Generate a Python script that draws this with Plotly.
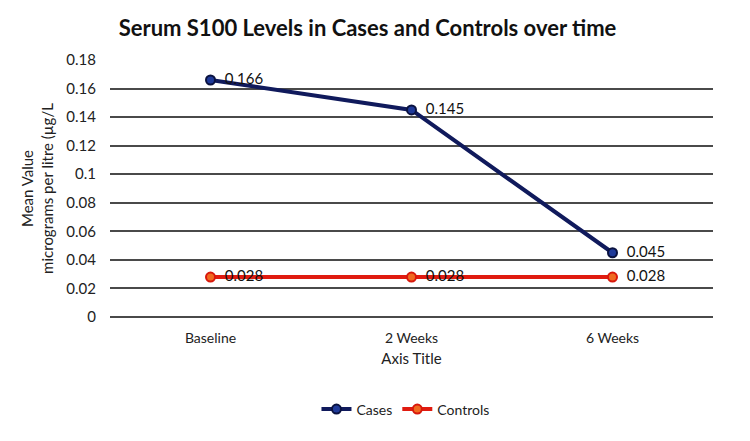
import plotly.graph_objects as go

categories = ["Baseline", "2 Weeks", "6 Weeks"]
cases = [0.166, 0.145, 0.045]
controls = [0.028, 0.028, 0.028]
y_ticks = [0, 0.02, 0.04, 0.06, 0.08, 0.1, 0.12, 0.14, 0.16, 0.18]
y_tick_text = ["0", "0.02", "0.04", "0.06", "0.08", "0.1", "0.12", "0.14", "0.16", "0.18"]

FONT = "Lato"

fig = go.Figure()
fig.add_trace(go.Scatter(
    x=categories, y=cases, name="Cases", mode="lines+markers+text",
    line=dict(color="#101a5c", width=4),
    marker=dict(size=9, color="#1f3a99", line=dict(color="#0a1240", width=2)),
    text=["  " + str(v) for v in cases], textposition="middle right",
    textfont=dict(family=FONT, size=15, color="#111111"),
))
fig.add_trace(go.Scatter(
    x=categories, y=controls, name="Controls", mode="lines+markers+text",
    line=dict(color="#e01b10", width=4),
    marker=dict(size=9, color="#f06a20", line=dict(color="#d8180c", width=2)),
    text=["  " + str(v) for v in controls], textposition="middle right",
    textfont=dict(family=FONT, size=15, color="#111111"),
))

fig.update_layout(
    width=750, height=441,
    margin=dict(l=110, r=37, t=60, b=124),
    paper_bgcolor="white", plot_bgcolor="white",
    font=dict(family=FONT, size=14, color="#222222"),
    title=dict(text="<b>Serum S100 Levels in Cases and Controls over time</b>",
               x=0.49, xanchor="center", y=0.935, yanchor="middle",
               font=dict(family=FONT, size=22, color="#111111")),
    xaxis=dict(title=dict(text="Axis Title", font=dict(family=FONT, size=15), standoff=8),
               showgrid=False, showline=False, ticks="", tickfont=dict(family=FONT, size=14),
               ticklabelstandoff=11, range=[-0.5, 2.5]),
    yaxis=dict(title=dict(text="Mean Value<br>micrograms per litre (µg/L", font=dict(family=FONT, size=15), standoff=9),
               range=[0, 0.18], tickvals=y_ticks, ticktext=y_tick_text,
               showgrid=True, gridcolor="#4a4a4a", gridwidth=1.5,
               zeroline=True, zerolinecolor="#4a4a4a", zerolinewidth=1.5,
               showline=False, ticks="", tickfont=dict(family=FONT, size=15),
               ticklabelstandoff=13),
    legend=dict(orientation="h", x=0.49, xanchor="center", y=-0.36, yanchor="middle",
                font=dict(family=FONT, size=14, color="#222222")),
    showlegend=True,
)

fig.write_html("out.html")
